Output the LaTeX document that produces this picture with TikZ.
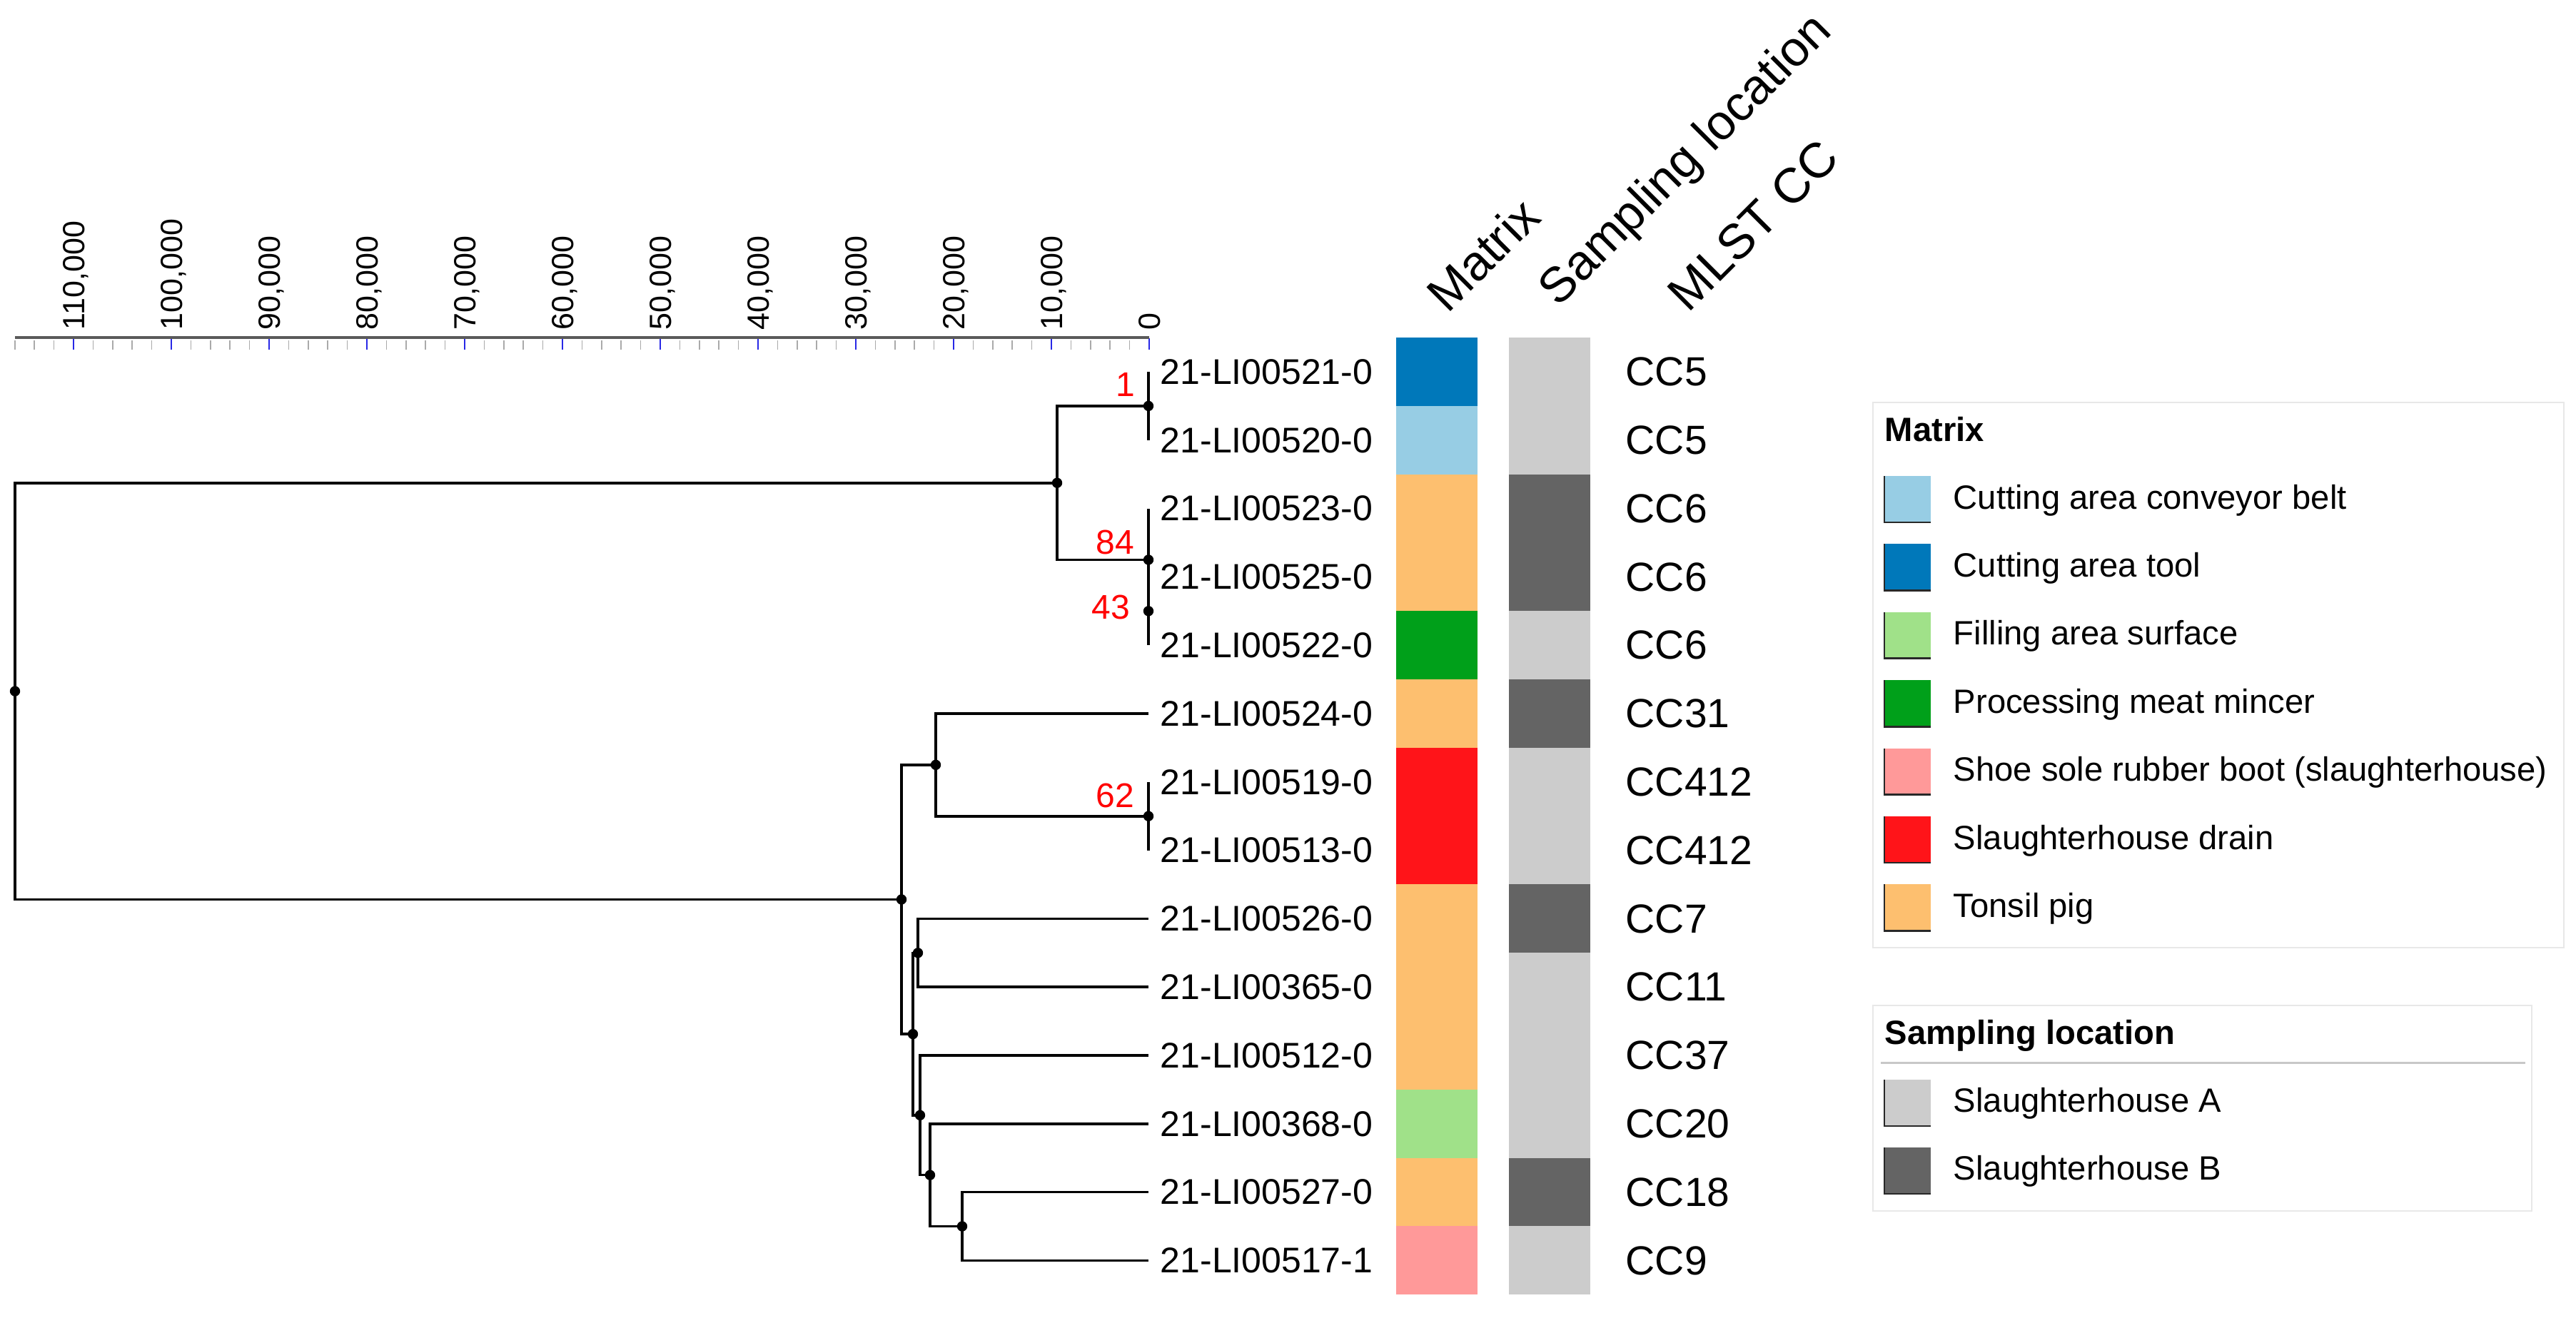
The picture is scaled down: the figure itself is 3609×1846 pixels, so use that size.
\documentclass[tikz,border=0pt]{standalone}
\usepackage{fontspec}
\setmainfont{Liberation Sans}
\definecolor{ctool}{RGB}{0,120,186}
\definecolor{cbelt}{RGB}{151,205,228}
\definecolor{cfill}{RGB}{160,225,137}
\definecolor{cminc}{RGB}{0,160,26}
\definecolor{cboot}{RGB}{255,153,153}
\definecolor{cdrain}{RGB}{255,20,25}
\definecolor{ctons}{RGB}{253,191,111}
\definecolor{shA}{RGB}{204,204,204}
\definecolor{shB}{RGB}{100,100,100}
\definecolor{axgray}{RGB}{90,90,90}
\definecolor{tickgray}{RGB}{170,170,170}
\definecolor{tickblue}{RGB}{40,40,230}
\definecolor{legline}{RGB}{232,232,232}
\definecolor{sepline}{RGB}{200,200,200}
\definecolor{swedge}{RGB}{40,40,40}
\begin{document}
\begin{tikzpicture}[x=0.25pt,y=-0.25pt,
  branch/.style={line width=0.9pt,black},
  dotnode/.style={circle,fill=black,inner sep=0pt,minimum size=3.6pt},
  leaflab/.style={anchor=west,inner sep=0pt,font=\fontsize{12.5pt}{15pt}\selectfont},
  cclab/.style={anchor=west,inner sep=0pt,font=\fontsize{14.25pt}{17pt}\selectfont},
  redlab/.style={anchor=east,inner sep=0pt,text=red,font=\fontsize{12pt}{14pt}\selectfont},
  hdr/.style={anchor=base west,inner sep=0pt,rotate=45,font=\fontsize{17.25pt}{20pt}\selectfont},
  ticklab/.style={anchor=west,inner sep=0pt,rotate=90,text height=7.7pt,text depth=0pt,font=\fontsize{10.75pt}{13pt}\selectfont},
  legtitle/.style={anchor=base west,inner sep=0pt,font=\fontsize{11.8pt}{14pt}\selectfont\bfseries},
  legtext/.style={anchor=base west,inner sep=0pt,font=\fontsize{11.8pt}{14pt}\selectfont},
  legbox/.style={draw=legline,line width=0.5pt},
  swedgeline/.style={draw=swedge,line width=0.7pt},
  axline/.style={draw=axgray,line width=0.8pt},
  mintick/.style={draw=tickgray,line width=0.4pt},
  majtick/.style={draw=tickblue,line width=0.5pt}
]
\useasboundingbox (0,0) rectangle (3609,1846);

% ---------- scale axis ----------
\coordinate (axR) at (1610,473);
\coordinate (axL) at (21,473);
\foreach \k in {0,...,58}{
  \pgfmathsetmacro\tx{1610-27.4*\k}
  \pgfmathtruncatemacro\m{mod(\k,5)}
  \ifnum\m=0
    \draw[majtick] (\tx,474) -- (\tx,490);
  \else
    \draw[mintick] (\tx,477) -- (\tx,490);
  \fi
}
\draw[axline] (axL) -- (axR);
\node[ticklab] (t0) at (1610,463) {0};
\foreach \k in {1,...,11}{
  \node[ticklab] (t\k) at ({1610-137*\k},463) {\k0,000};
}

% ---------- column headers ----------
\node[hdr] (hM) at (2028,441) {Matrix};
\node[hdr] (hS) at (2183,432) {Sampling location};
\node[hdr] (hC) at (2365,440) {MLST CC};

% ---------- rows ----------
\foreach \i/\lab/\mc/\sc/\cc in {
  0/21-LI00521-0/ctool/shA/CC5,
  1/21-LI00520-0/cbelt/shA/CC5,
  2/21-LI00523-0/ctons/shB/CC6,
  3/21-LI00525-0/ctons/shB/CC6,
  4/21-LI00522-0/cminc/shA/CC6,
  5/21-LI00524-0/ctons/shB/CC31,
  6/21-LI00519-0/cdrain/shA/CC412,
  7/21-LI00513-0/cdrain/shA/CC412,
  8/21-LI00526-0/ctons/shB/CC7,
  9/21-LI00365-0/ctons/shA/CC11,
  10/21-LI00512-0/ctons/shA/CC37,
  11/21-LI00368-0/cfill/shA/CC20,
  12/21-LI00527-0/ctons/shB/CC18,
  13/21-LI00517-1/cboot/shA/CC9}{
  \pgfmathsetmacro\yc{521+95.8*\i}
  \pgfmathsetmacro\ya{473+95.8*\i}
  \pgfmathsetmacro\yb{473+95.8*(\i+1)}
  \coordinate (l\i) at (1609,\yc);
  \node[leaflab] (lab\i) at (1625,\yc) {\lab};
  \fill[\mc] (1956,\ya) rectangle (2070,\yb);
  \fill[\sc] (2114,\ya) rectangle (2228,\yb);
  \node[cclab] (cc\i) at (2277,\yc) {\cc};
}

% ---------- tree ----------
\coordinate (n1)   at (1609,568.9);
\coordinate (n43)  at (1609,856.3);
\coordinate (n84)  at (1609,784.45);
\coordinate (nA)   at (1481,676.7);
\coordinate (n62)  at (1609,1143.7);
\coordinate (nC)   at (1311,1071.85);
\coordinate (nE)   at (1286,1335.3);
\coordinate (nH)   at (1348,1718.5);
\coordinate (nG)   at (1303,1646.65);
\coordinate (nF)   at (1289,1562.8);
\coordinate (nD)   at (1279,1449.05);
\coordinate (nB)   at (1263,1260.45);
\coordinate (root) at (21,968.6);

\draw[branch] (n1) |- (l0) (n1) |- (l1);
\draw[branch] (n43) |- (l3) (n43) |- (l4);
\draw[branch] (n84) |- (l2) (n84) |- (n43);
\draw[branch] (nA) |- (n1) (nA) |- (n84);
\draw[branch] (n62) |- (l6) (n62) |- (l7);
\draw[branch] (nC) |- (l5) (nC) |- (n62);
\draw[branch] (nE) |- (l8) (nE) |- (l9);
\draw[branch] (nH) |- (l12) (nH) |- (l13);
\draw[branch] (nG) |- (l11) (nG) |- (nH);
\draw[branch] (nF) |- (l10) (nF) |- (nG);
\draw[branch] (nD) |- (nE) (nD) |- (nF);
\draw[branch] (nB) |- (nC) (nB) |- (nD);
\draw[branch] (root) |- (nA) (root) |- (nB);

\foreach \n in {n1,n43,n84,nA,n62,nC,nE,nH,nG,nF,nD,nB,root}{
  \node[dotnode] (d\n) at (\n) {};
}

\node[redlab] (r1)  at (1591,539) {1};
\node[redlab] (r84) at (1590,760) {84};
\node[redlab] (r43) at (1584,851) {43};
\node[redlab] (r62) at (1590,1115) {62};

% ---------- legend: Matrix ----------
\draw[legbox] (2624,564) rectangle (3592,1328);
\node[legtitle] (lgM) at (2640,618) {Matrix};
\foreach \k/\c/\t in {
  0/cbelt/Cutting area conveyor belt,
  1/ctool/Cutting area tool,
  2/cfill/Filling area surface,
  3/cminc/Processing meat mincer,
  4/cboot/Shoe sole rubber boot (slaughterhouse),
  5/cdrain/Slaughterhouse drain,
  6/ctons/Tonsil pig}{
  \pgfmathsetmacro\sy{667+95.4*\k}
  \pgfmathsetmacro\sz{732+95.4*\k}
  \pgfmathsetmacro\by{713+95.4*\k}
  \fill[\c] (2640,\sy) rectangle (2705,\sz);
  \draw[swedgeline] (2640,\sy) -- (2640,\sz) -- (2705,\sz);
  \node[legtext] (lgm\k) at (2736,\by) {\t};
}

% ---------- legend: Sampling location ----------
\draw[legbox] (2624,1409) rectangle (3547,1697);
\node[legtitle] (lgS) at (2640,1463) {Sampling location};
\draw[draw=sepline,line width=0.75pt] (2635,1489) -- (3538,1489);
\foreach \k/\c/\t in {0/shA/Slaughterhouse A,1/shB/Slaughterhouse B}{
  \pgfmathsetmacro\sy{1513+95*\k}
  \pgfmathsetmacro\sz{1578+95*\k}
  \pgfmathsetmacro\by{1558+95*\k}
  \fill[\c] (2640,\sy) rectangle (2705,\sz);
  \draw[swedgeline] (2640,\sy) -- (2640,\sz) -- (2705,\sz);
  \node[legtext] (lgs\k) at (2736,\by) {\t};
}
\end{tikzpicture}
\end{document}
